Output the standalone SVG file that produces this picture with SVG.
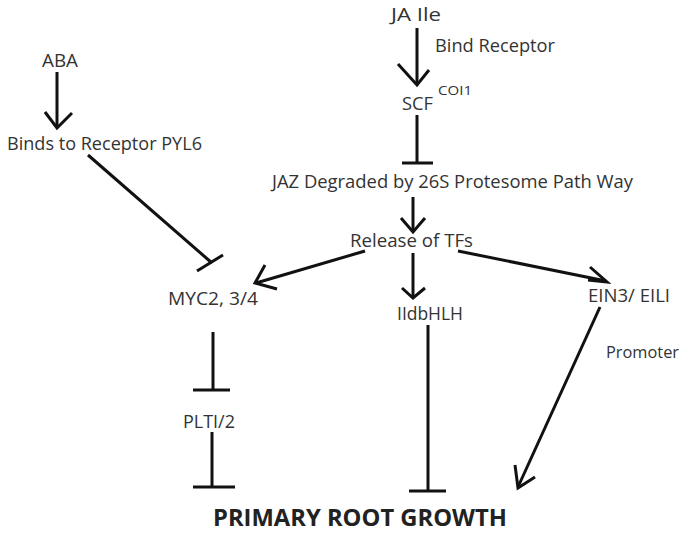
<svg xmlns="http://www.w3.org/2000/svg" width="684" height="533" viewBox="0 0 684 533">
<style>
text{font-family:"Open Sans","Liberation Sans",sans-serif;font-size:18px;fill:#333}
.b{font-weight:bold;font-size:23px;fill:#222}
.s{font-size:12px}
.p{font-size:16.5px}
line,polyline{stroke:#111;stroke-width:3;fill:none;stroke-linecap:butt}
</style>
<rect width="684" height="533" fill="#fff"/>
<g id="ja"><text x="416" y="21" text-anchor="middle" textLength="50" lengthAdjust="spacingAndGlyphs">JA Ile</text></g>
<g id="bindrec"><text x="435" y="52" textLength="120" lengthAdjust="spacingAndGlyphs">Bind Receptor</text></g>
<g id="scf"><text x="402" y="110" textLength="31" lengthAdjust="spacingAndGlyphs">SCF</text><text class="s" x="438" y="95" textLength="34" lengthAdjust="spacingAndGlyphs">COI1</text></g>
<g id="aba"><text x="42" y="67" textLength="36" lengthAdjust="spacingAndGlyphs">ABA</text></g>
<g id="pyl6"><text x="7" y="150" textLength="195" lengthAdjust="spacingAndGlyphs">Binds to Receptor PYL6</text></g>
<g id="jaz"><text x="272" y="188" textLength="361" lengthAdjust="spacingAndGlyphs">JAZ Degraded by 26S Protesome Path Way</text></g>
<g id="tfs"><text x="350" y="247" textLength="123" lengthAdjust="spacingAndGlyphs">Release of TFs</text></g>
<g id="myc"><text x="168" y="305" textLength="90" lengthAdjust="spacingAndGlyphs">MYC2, 3/4</text></g>
<g id="bhlh"><text x="397" y="320" textLength="66" lengthAdjust="spacingAndGlyphs">IIdbHLH</text></g>
<g id="ein3"><text x="588" y="302" textLength="82" lengthAdjust="spacingAndGlyphs">EIN3/ EILI</text></g>
<g id="promoter"><text class="p" x="606" y="358" textLength="73" lengthAdjust="spacingAndGlyphs">Promoter</text></g>
<g id="plt"><text x="183" y="428" textLength="52" lengthAdjust="spacingAndGlyphs">PLTI/2</text></g>
<g id="growth"><text class="b" x="360" y="526" text-anchor="middle" textLength="294" lengthAdjust="spacingAndGlyphs">PRIMARY ROOT GROWTH</text></g>
<g id="connectors">
<line x1="417" y1="28" x2="417" y2="84"/><polyline points="398,64 417,85 429,70"/>
<line x1="417" y1="115" x2="417" y2="163"/><line x1="402" y1="163" x2="433" y2="163"/>
<line x1="57" y1="72" x2="57" y2="127"/><polyline points="45,112 57,128 72,113"/>
<line x1="88" y1="155" x2="212" y2="263"/><line x1="197" y1="271" x2="223" y2="255"/>
<line x1="413" y1="197" x2="413" y2="231"/><polyline points="401,218 413,232 425,218"/>
<line x1="365" y1="251" x2="256" y2="283"/><polyline points="265,265 255,283 277,289"/>
<line x1="413" y1="253" x2="413" y2="297"/><polyline points="402,288 413,298 425,288"/>
<line x1="458" y1="251" x2="606" y2="281"/><polyline points="590,267 607,282 588,280"/>
<line x1="213" y1="332" x2="213" y2="390"/><line x1="193" y1="390" x2="230" y2="390"/>
<line x1="212" y1="432" x2="212" y2="487"/><line x1="193" y1="487" x2="235" y2="487"/>
<line x1="428" y1="325" x2="428" y2="491"/><line x1="409" y1="491" x2="446" y2="491"/>
<line x1="600" y1="307" x2="518" y2="487"/><polyline points="515,465 518,488 535,477"/>
</g>
</svg>
